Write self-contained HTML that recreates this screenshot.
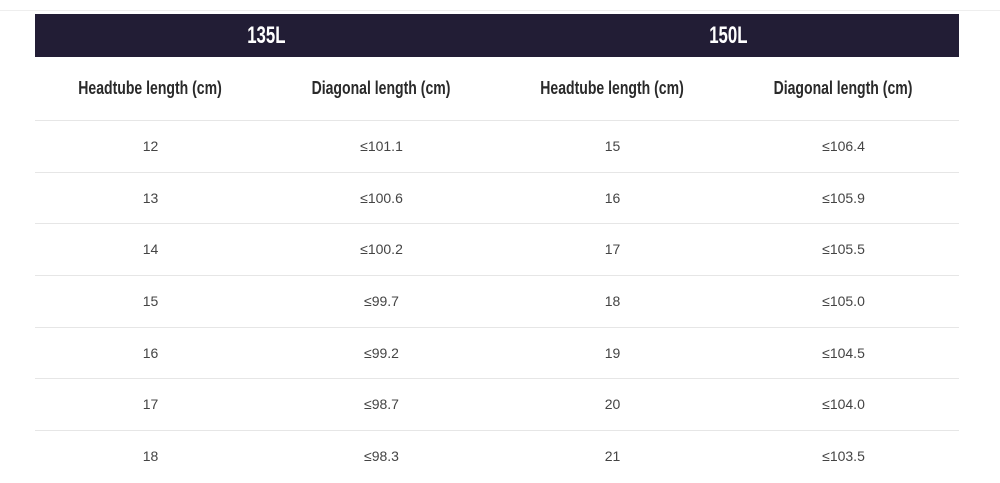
<!DOCTYPE html>
<html><head><style>
body{margin:0;width:1000px;height:483px;background:#fff;overflow:hidden;position:relative;font-family:"Liberation Sans",sans-serif}
.topline{position:absolute;left:0;top:10px;width:1000px;height:1px;background:#eee}
.hdr{position:absolute;left:35px;top:14px;width:924px;height:43px;background:#221d35;display:flex}
.hdr div{flex:1;text-align:center;color:#fff;font-weight:bold;font-size:24px;line-height:43px}
.hdr span{display:inline-block;transform:scaleX(0.7)}
.row{position:absolute;left:35px;width:924px;display:flex;border-bottom:1px solid #e6e6e6}
.row div{flex:1;text-align:center}
.sub div{font-weight:bold;font-size:18px;color:#2a2a2a;line-height:63px}
.sub span{display:inline-block;transform:scaleX(0.78)}
.d div{font-size:14px;color:#444;line-height:51px}
</style></head><body>
<div class="topline"></div>
<div class="hdr"><div><span>135L</span></div><div><span>150L</span></div></div>
<div class="row sub" style="top:57px;height:63px"><div><span>Headtube length (cm)</span></div><div><span>Diagonal length (cm)</span></div><div><span>Headtube length (cm)</span></div><div><span>Diagonal length (cm)</span></div></div>
<div class="row d" style="top:121px;height:51px"><div>12</div><div>≤101.1</div><div>15</div><div>≤106.4</div></div>
<div class="row d" style="top:173px;height:50px"><div>13</div><div>≤100.6</div><div>16</div><div>≤105.9</div></div>
<div class="row d" style="top:224px;height:51px"><div>14</div><div>≤100.2</div><div>17</div><div>≤105.5</div></div>
<div class="row d" style="top:276px;height:51px"><div>15</div><div>≤99.7</div><div>18</div><div>≤105.0</div></div>
<div class="row d" style="top:328px;height:50px"><div>16</div><div>≤99.2</div><div>19</div><div>≤104.5</div></div>
<div class="row d" style="top:379px;height:51px"><div>17</div><div>≤98.7</div><div>20</div><div>≤104.0</div></div>
<div class="row d" style="top:431px;height:51px;border-bottom:none"><div>18</div><div>≤98.3</div><div>21</div><div>≤103.5</div></div>
</body></html>
